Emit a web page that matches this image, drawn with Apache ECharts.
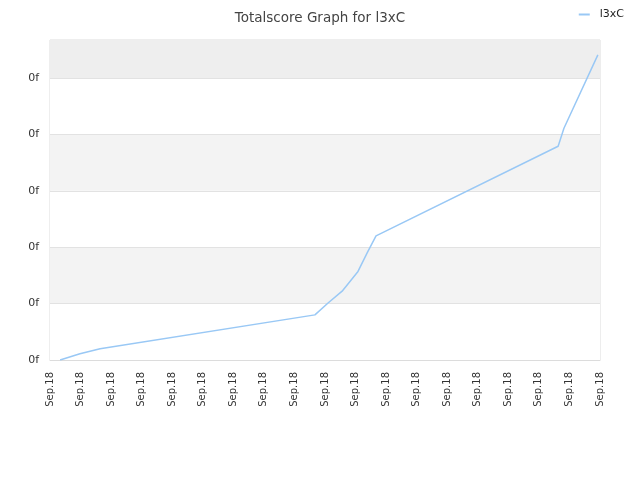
<!DOCTYPE html>
<html><head><meta charset="utf-8">
<script src="https://cdn.jsdelivr.net/npm/echarts@6/dist/echarts.min.js"></script>
<style>html,body{margin:0;padding:0;background:#fff}#c{width:640px;height:480px}</style>
</head><body><div id="c"></div>
<script>
var seriesName = 'l3xC';
var titleText = 'Totalscore Graph for l3xC';
var xTickLabels = ['Sep.18','Sep.18','Sep.18','Sep.18','Sep.18','Sep.18','Sep.18','Sep.18','Sep.18','Sep.18','Sep.18','Sep.18','Sep.18','Sep.18','Sep.18','Sep.18','Sep.18','Sep.18','Sep.18'];
var yTickLabel = '0f';
var xValues = [0.33, 0.98, 1.64, 8.67, 9.10, 9.56, 10.08, 10.38, 10.67, 16.63, 16.82, 17.93];
var yValues = [0.00, 0.11, 0.20, 0.80, 1.01, 1.22, 1.57, 1.90, 2.20, 3.79, 4.11, 5.41];

var data = xValues.map(function(x, i){ return [x, yValues[i]]; });
var yMax = 5.674;
var chart = echarts.init(document.getElementById('c'), null, {renderer:'canvas'});
chart.setOption({
  animation: false,
  textStyle: {fontFamily: 'DejaVu Sans'},
  title: {text: titleText, left: 'center', top: 6,
    textStyle: {fontFamily: 'DejaVu Sans', fontSize: 13.5, fontWeight: 'normal', color: '#444'}},
  legend: {right: 11, top: 4, itemWidth: 11, itemHeight: 12, itemGap: 6,
    textStyle: {fontFamily: 'DejaVu Sans', fontSize: 11, color: '#222', padding: [0,0,0,5]},
    data: [{name: seriesName, icon: 'path://M0,5L11,5L11,7L0,7Z'}]},
  grid: {left: 50, right: 40, top: 40, bottom: 120, show: true, borderColor: '#dcdcdc', borderWidth: 1, backgroundColor: 'transparent'},
  xAxis: {type: 'value', min: 0, max: 18, interval: 1,
    axisLine: {show: true, lineStyle: {color: '#dcdcdc'}},
    axisTick: {show: false}, splitLine: {show: false},
    axisLabel: {rotate: 90, margin: 12, fontSize: 10, color: '#333', fontFamily: 'DejaVu Sans',
      formatter: function(v){ return xTickLabels[Math.round(v)] || ''; }}},
  yAxis: {type: 'value', min: 0, max: yMax, interval: 1,
    axisLine: {show: false}, axisTick: {show: false},
    axisLabel: {margin: 11, fontSize: 11, color: '#333', fontFamily: 'DejaVu Sans', showMaxLabel: false,
      formatter: function(v){ return yTickLabel; }},
    splitLine: {show: true, lineStyle: {color: '#e2e2e2'}},
    splitArea: {show: true, areaStyle: {color: ['#ffffff', '#f3f3f3']}}},
  series: [{
    name: seriesName, type: 'line', data: data, showSymbol: false, symbol: 'none',
    lineStyle: {color: '#99c8f5', width: 1.5}, itemStyle: {color: '#99c8f5'},
    markArea: {silent: true, itemStyle: {color: '#eeeeee'}, data: [[{yAxis: 5}, {yAxis: yMax}]]}
  }]
});
</script></body></html>
